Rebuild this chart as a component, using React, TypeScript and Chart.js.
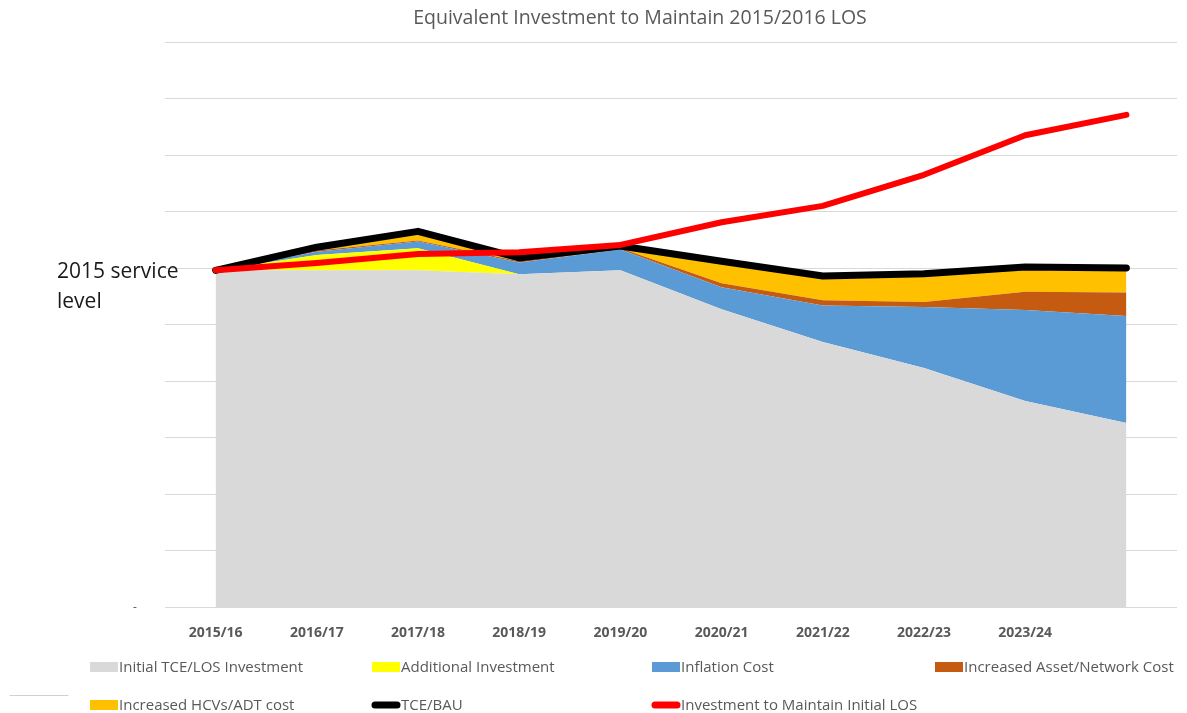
import React, { useEffect, useRef } from "react";
import { Chart, registerables } from "chart.js";

Chart.register(...registerables);

const chartTitle = "Equivalent Investment to Maintain 2015/2016 LOS";
const serviceLevelLabel = ["2015 service", "level"];
const zeroTickLabel = "-";

const categories = ["2015/16", "2016/17", "2017/18", "2018/19", "2019/20", "2020/21", "2021/22", "2022/23", "2023/24", ""];

const initialInvestment = [59.6, 59.6, 59.6, 58.9, 59.6, 52.7, 46.9, 42.3, 36.5, 32.6];
const additionalInvestment = [0, 2.7, 3.9, 0, 0, 0, 0, 0, 0, 0];
const inflationCost = [0, 0.6, 1.2, 2.1, 3.7, 3.9, 6.5, 10.8, 16.1, 18.9];
const assetNetworkCost = [0, 0.2, 0.2, 0.2, 0.2, 0.7, 0.9, 0.9, 3.2, 4.2];
const hcvAdtCost = [0, 0.6, 1.6, 0.6, 0.4, 3.9, 4.3, 5.0, 4.4, 4.3];
const tceBau = [59.6, 63.7, 66.5, 61.8, 63.9, 61.2, 58.6, 59.0, 60.2, 60.0];
const maintainInitialLos = [59.6, 60.9, 62.5, 62.8, 64.1, 68.1, 71.0, 76.5, 83.5, 87.1];

const FONT = "'Open Sans', sans-serif";
const TEXT_GREY = "#595959";

const areaDs = (label: string, data: number[], color: string, fill: any) => ({
  type: "line" as const,
  label,
  data,
  stack: "costs",
  order: 2,
  fill,
  backgroundColor: color,
  borderColor: color,
  borderWidth: 0,
  pointRadius: 0,
  tension: 0,
});

const lineDs = (label: string, data: number[], color: string, width: number, stack: string, order: number) => ({
  type: "line" as const,
  label,
  data,
  stack,
  order,
  fill: false,
  borderColor: color,
  backgroundColor: color,
  borderWidth: width,
  borderCapStyle: "round" as const,
  borderJoinStyle: "round" as const,
  pointRadius: 0,
  tension: 0,
});

const legendCols = [90, 372, 652, 935];
const legendRows = [667, 705];

const decorPlugin = {
  id: "decor",
  afterDraw(chart: any) {
    const ctx = chart.ctx as CanvasRenderingContext2D;
    ctx.save();
    // title
    ctx.fillStyle = TEXT_GREY;
    ctx.font = `19.5px ${FONT}`;
    ctx.textAlign = "center";
    ctx.textBaseline = "middle";
    ctx.fillText(chartTitle, 640, 18);

    // service level annotation
    ctx.fillStyle = "#1a1a1a";
    ctx.font = `21px ${FONT}`;
    ctx.textAlign = "left";
    ctx.fillText(serviceLevelLabel[0], 57, 272);
    ctx.fillText(serviceLevelLabel[1], 57, 302);

    // zero tick label
    const y0 = chart.scales.y.getPixelForValue(0);
    ctx.fillStyle = TEXT_GREY;
    ctx.font = `12px ${FONT}`;
    ctx.textAlign = "center";
    ctx.fillText(zeroTickLabel, 135, y0);

    // legend
    ctx.font = `15px ${FONT}`;
    ctx.textAlign = "left";
    chart.data.datasets.forEach((ds: any, i: number) => {
      const col = legendCols[i % 4];
      const row = legendRows[Math.floor(i / 4)];
      if (ds.fill === false) {
        ctx.strokeStyle = ds.borderColor;
        ctx.lineWidth = 7;
        ctx.lineCap = "round";
        ctx.beginPath();
        ctx.moveTo(col + 3, row);
        ctx.lineTo(col + 25, row);
        ctx.stroke();
      } else {
        ctx.fillStyle = ds.backgroundColor;
        ctx.fillRect(col, row - 5, 28, 10);
      }
      ctx.fillStyle = TEXT_GREY;
      ctx.fillText(ds.label, col + 29, row + 1);
    });

    // small stray line bottom-left
    ctx.strokeStyle = "#d0d0d0";
    ctx.lineWidth = 1;
    ctx.beginPath();
    ctx.moveTo(10, 695.5);
    ctx.lineTo(68, 695.5);
    ctx.stroke();
    ctx.restore();
  },
};

export default function App() {
  const canvasRef = useRef<HTMLCanvasElement | null>(null);

  useEffect(() => {
    document.body.style.margin = "0";
    const canvas = canvasRef.current;
    if (!canvas) return;
    const chart = new Chart(canvas, {
      type: "line",
      data: {
        labels: categories,
        datasets: [
          areaDs("Initial TCE/LOS Investment", initialInvestment, "#D9D9D9", "origin"),
          areaDs("Additional Investment", additionalInvestment, "#FFFF00", "-1"),
          areaDs("Inflation Cost", inflationCost, "#5B9BD5", "-1"),
          areaDs("Increased Asset/Network Cost", assetNetworkCost, "#C55A11", "-1"),
          areaDs("Increased HCVs/ADT cost", hcvAdtCost, "#FFC000", "-1"),
          lineDs("TCE/BAU", tceBau, "#000000", 7, "bau", 1),
          lineDs("Investment to Maintain Initial LOS", maintainInitialLos, "#FF0000", 6, "los", 0),
        ] as any,
      },
      options: {
        responsive: false,
        animation: false,
        layout: { padding: { left: 165, right: 10, top: 42, bottom: 55 } },
        plugins: {
          legend: { display: false },
          title: { display: false },
          tooltip: { enabled: false },
        },
        scales: {
          x: {
            offset: true,
            grid: { display: false, drawTicks: false },
            border: { display: false },
            ticks: {
              autoSkip: false,
              maxRotation: 0,
              padding: 17,
              color: TEXT_GREY,
              font: { family: FONT, size: 14, weight: "bold" },
            },
          },
          y: {
            stacked: true,
            min: 0,
            max: 100,
            ticks: { display: false, stepSize: 10 },
            grid: { color: "#D9D9D9", lineWidth: 1, drawTicks: false },
            border: { display: false },
          },
        },
      },
      plugins: [decorPlugin],
    });
    return () => chart.destroy();
  }, []);

  return (
    <div style={{ width: 1187, height: 713 }}>
      <canvas ref={canvasRef} width={1187} height={713} style={{ display: "block" }} />
    </div>
  );
}
